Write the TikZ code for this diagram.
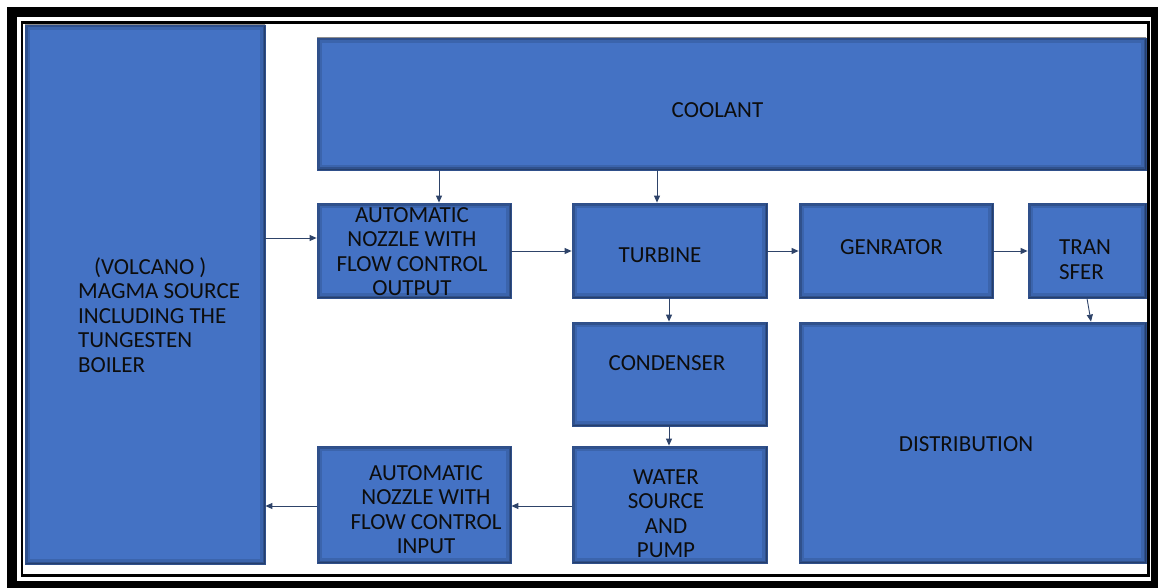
\documentclass[tikz,border=0pt]{standalone}
\usepackage{fontspec}
\setmainfont{Carlito}
\usetikzlibrary{arrows.meta,calc}
\definecolor{boxblue}{HTML}{4472C4}
\definecolor{boxedge}{HTML}{2F4F8A}
\definecolor{arrowc}{HTML}{2E4369}
\definecolor{txt}{HTML}{0D0D0D}
\tikzset{
  blk/.style={fill=boxblue, draw=boxedge, line width=0.8pt, inner sep=0pt,
    path picture={
      \draw[black, opacity=0.12, line width=10pt] (path picture bounding box.south west) rectangle (path picture bounding box.north east);
      \draw[black, opacity=0.18, line width=5pt] (path picture bounding box.south west) rectangle (path picture bounding box.north east);
      \draw[black, opacity=0.22, line width=2pt] (path picture bounding box.south west) rectangle (path picture bounding box.north east);
    }},
  lbl/.style={text=txt, font=\fontsize{23}{24.5}\selectfont, inner sep=0pt, align=center},
  flow/.style={draw=arrowc, line width=0.9pt, -{Triangle[length=7pt,width=6pt]}},
}
\newcommand{\mybox}[5]{% name, x1, y1, x2, y2
  \node[blk, minimum width={#4-#2}, minimum height={#5-#3}] (#1) at ({(#2+#4)/2},{(#3+#5)/2}) {};}
\begin{document}
\begin{tikzpicture}[x=1pt,y=-1pt]
\useasboundingbox (0,0) rectangle (1158,588);
\clip (0,0) rectangle (1158,588);
\fill[white] (0,0) rectangle (1158,588);
% frame
\draw[black, line width=10pt] (12,12) rectangle (1156,586);
\draw[black, line width=2.5pt] (22,22.5) rectangle (1148.5,575.5);
% boxes
\mybox{magma}{25}{25}{265}{564}
\mybox{coolant}{317}{38}{1146}{170}
\mybox{nozout}{317}{203}{511}{298}
\mybox{turbine}{572}{203}{767}{298}
\mybox{gen}{799}{203}{993}{298}
\mybox{transfer}{1028}{203}{1146}{298}
\mybox{condenser}{572}{322}{767}{426}
\mybox{distribution}{799}{322}{1146}{563}
\mybox{water}{572}{446}{767}{563}
\mybox{nozin}{317}{446}{511}{563}
% labels
\node[lbl, anchor=north west, align=left] (magma-t) at (78,257) {\hspace*{16pt}(VOLCANO )\\MAGMA SOURCE\\INCLUDING THE\\TUNGESTEN\\BOILER};
\node[lbl] (coolant-t) at (717.5,110) {COOLANT};
\node[lbl] (nozout-t) at (412,251.5) {AUTOMATIC\\NOZZLE WITH\\FLOW CONTROL\\OUTPUT};
\node[lbl] (turbine-t) at (660,255) {TURBINE};
\node[lbl] (gen-t) at (891.5,247.5) {GENRATOR};
\node[lbl, align=left] (transfer-t) at (1085,259.5) {TRAN\\SFER};
\node[lbl] (condenser-t) at (667,363) {CONDENSER};
\node[lbl] (distribution-t) at (966,444) {DISTRIBUTION};
\node[lbl] (water-t) at (666,513.5) {WATER\\SOURCE\\AND\\PUMP};
\node[lbl] (nozin-t) at (426,509.5) {AUTOMATIC\\NOZZLE WITH\\FLOW CONTROL\\INPUT};
% connectors
\draw[flow] (coolant.south -| 439,0) -- (nozout.north -| 439,0);
\draw[flow] (coolant.south -| 657,0) -- (turbine.north -| 657,0);
\draw[flow] (magma.east |- 0,238) -- (nozout.west |- 0,238);
\draw[flow] (nozout.east |- 0,251) -- (turbine.west |- 0,251);
\draw[flow] (turbine.east |- 0,251) -- (gen.west |- 0,251);
\draw[flow] (gen.east |- 0,251) -- (transfer.west |- 0,251);
\draw[flow] (transfer.south -| 1087,0) -- (distribution.north -| 1091,0);
\draw[flow] (turbine.south -| 669,0) -- (condenser.north -| 669,0);
\draw[flow] (condenser.south -| 669,0) -- (water.north -| 669,0);
\draw[flow] (water.west |- 0,506) -- (nozin.east |- 0,506);
\draw[flow] (nozin.west |- 0,506) -- (magma.east |- 0,506);
\end{tikzpicture}
\end{document}
